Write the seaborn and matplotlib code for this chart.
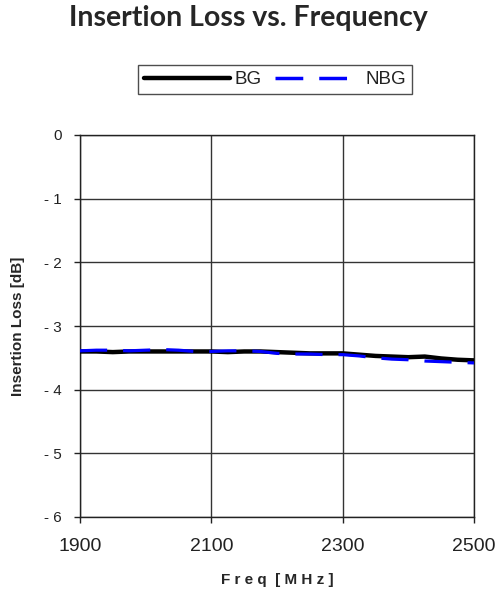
import matplotlib
matplotlib.use("Agg")
import matplotlib.pyplot as plt
import seaborn as sns
import pandas as pd
from matplotlib.lines import Line2D

# Data
freq_bg = [1900, 1925, 1950, 1975, 2000, 2025, 2050, 2075, 2100, 2125, 2150, 2175, 2200, 2225,
           2250, 2275, 2300, 2325, 2350, 2375, 2400, 2425, 2450, 2475, 2500]
loss_bg = [-3.40, -3.40, -3.41, -3.40, -3.40, -3.40, -3.40, -3.40, -3.40, -3.41, -3.40, -3.40,
           -3.41, -3.42, -3.43, -3.43, -3.43, -3.45, -3.47, -3.48, -3.49, -3.48, -3.51, -3.53, -3.54]
freq_nbg = [1900, 1925, 1950, 1975, 2000, 2025, 2050, 2075, 2100, 2125, 2150, 2175, 2200, 2225,
            2250, 2275, 2300, 2325, 2350, 2375, 2400, 2425, 2450, 2475, 2500]
loss_nbg = [-3.39, -3.38, -3.38, -3.39, -3.38, -3.37, -3.38, -3.40, -3.40, -3.39, -3.39, -3.40,
            -3.43, -3.44, -3.44, -3.45, -3.45, -3.47, -3.50, -3.52, -3.53, -3.55, -3.56, -3.57, -3.58]
series_names = ["BG", "NBG"]
x_ticks = [1900, 2100, 2300, 2500]
y_ticks = [0, -1, -2, -3, -4, -5, -6]

sns.set_theme(style="white")
plt.rcParams['font.family'] = ['Liberation Sans', 'DejaVu Sans']

fig = plt.figure(figsize=(4.96, 5.94), dpi=100)
ax = fig.add_axes([80/496, 1-517/594, 394/496, 382/594])

df_bg = pd.DataFrame({"Freq": freq_bg, "Loss": loss_bg})
df_nbg = pd.DataFrame({"Freq": freq_nbg, "Loss": loss_nbg})

sns.lineplot(data=df_bg, x="Freq", y="Loss", ax=ax, color="black", linewidth=3.2, zorder=3)
sns.lineplot(data=df_nbg, x="Freq", y="Loss", ax=ax, color="#0000ff", linewidth=2.3, zorder=4)
ax.lines[-1].set_dashes([8.5, 5])

ax.set_xlim(1900, 2500)
ax.set_ylim(-6, 0)
ax.set_xticks(x_ticks)
ax.set_yticks(y_ticks)
ax.set_xticklabels([str(v) for v in x_ticks])
ax.set_yticklabels(["- %d" % abs(v) if v != 0 else "0" for v in y_ticks])
ax.grid(True, color="#333333", linewidth=1.0)
ax.set_axisbelow(True)
for s in ax.spines.values():
    s.set_color("#222222")
    s.set_linewidth(1.0)
ax.tick_params(axis="both", which="both", direction="out", length=4, width=1, color="#222222",
               labelcolor="#222222", bottom=True, left=True)
ax.tick_params(axis="x", labelsize=14, pad=11)
ax.tick_params(axis="y", labelsize=11, pad=9)

ax.set_xlabel("F r e q  [ M H z ]", fontsize=11, fontweight="bold", labelpad=13)
ax.set_ylabel("Insertion Loss [dB]", fontsize=11, fontweight="bold", labelpad=14)

fig.text(0.5, 1-18/594, "Insertion Loss vs. Frequency", ha="center", va="center",
         fontsize=20.5, fontweight="bold", family=["Lato", "DejaVu Sans"])

handles = [Line2D([], [], color="black", linewidth=3.2),
           Line2D([], [], color="#0000ff", linewidth=2.5, dashes=[8, 4.6])]
leg = fig.legend(handles, series_names, loc="center", bbox_to_anchor=(275/496, 1-79.5/594),
                 ncol=2, frameon=True, fancybox=False, edgecolor="#222222", fontsize=13.5,
                 handlelength=4.6, handletextpad=0.2, columnspacing=0.75, borderpad=0.3)
leg.get_frame().set_linewidth(1.0)
for t in leg.get_texts():
    t.set_color("#222222")

fig.savefig("out.png", dpi=100)
